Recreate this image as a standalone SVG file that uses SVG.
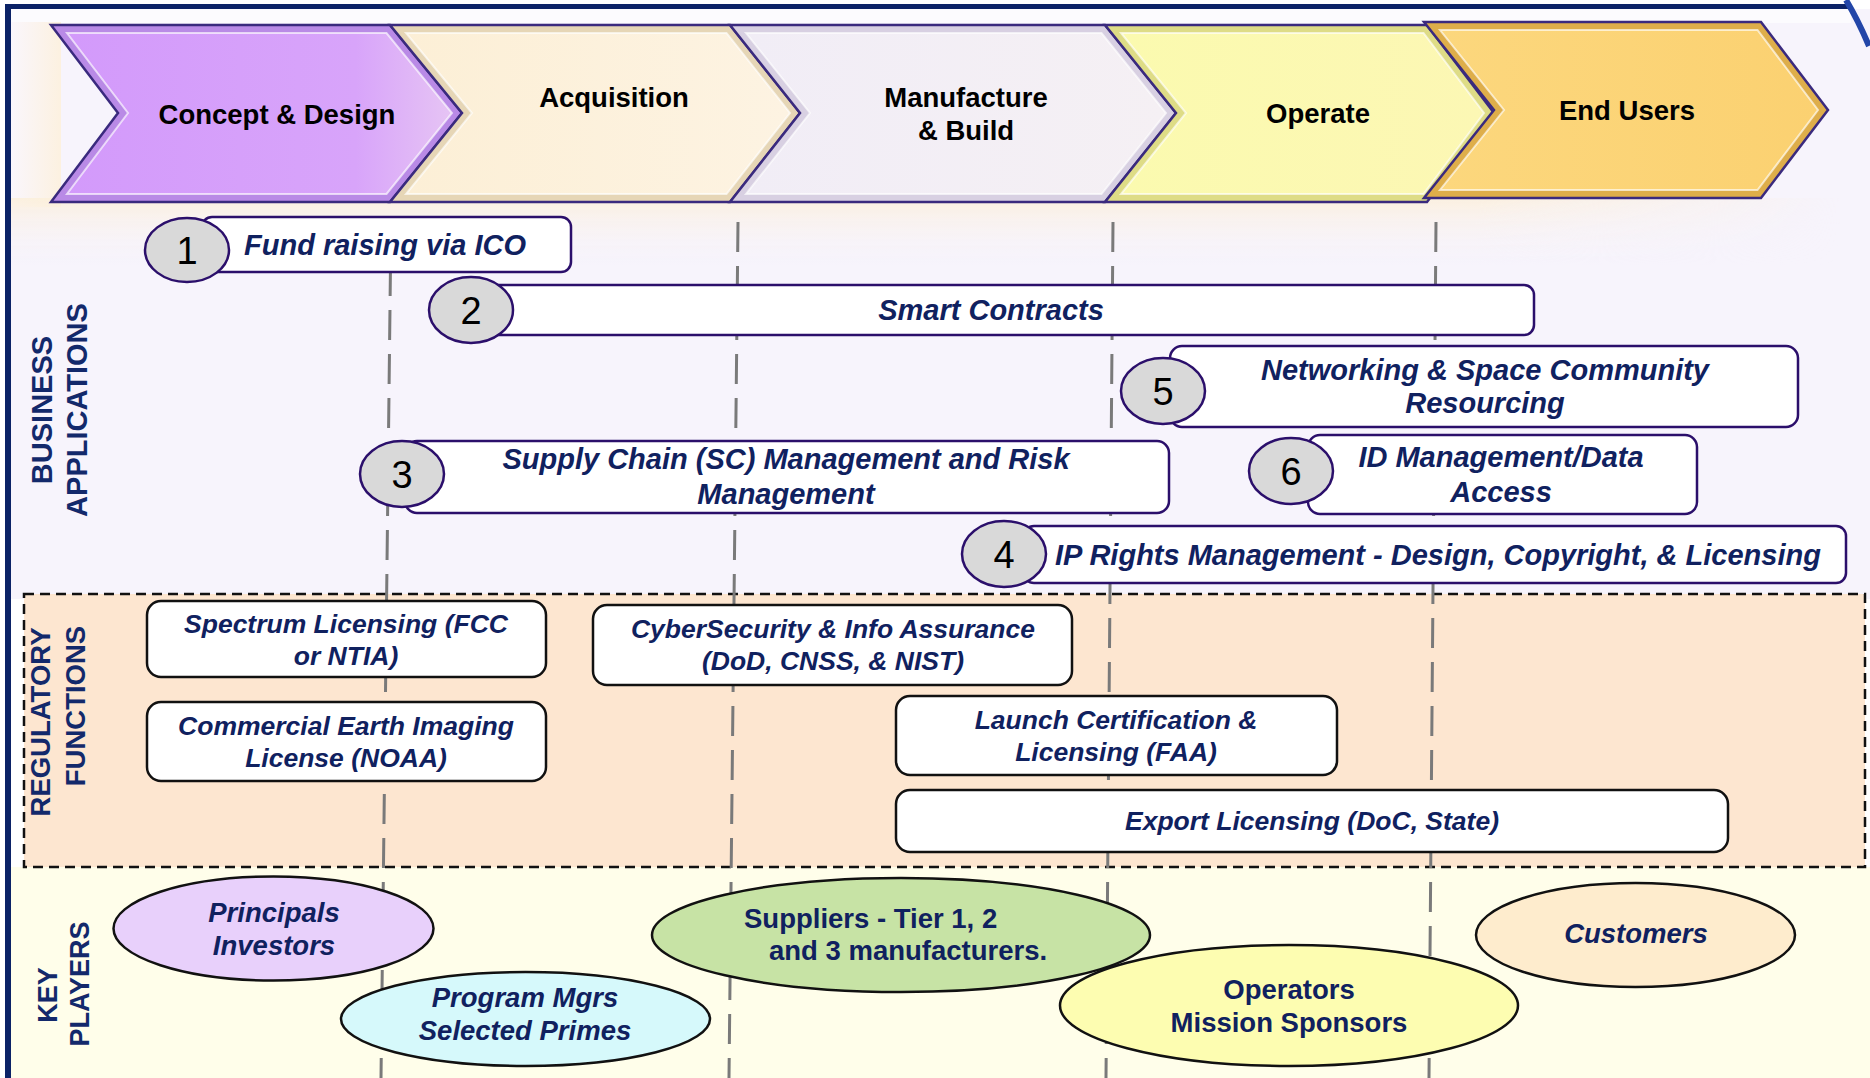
<svg xmlns="http://www.w3.org/2000/svg" width="1870" height="1078" viewBox="0 0 1870 1078">
<style>
.chev-out{stroke:#3a2a7e;stroke-width:2.5;stroke-linejoin:miter}
.chev-in{stroke:#ffffff;stroke-opacity:0.65;stroke-width:2}
.chev-t{font-family:"Liberation Sans",Arial,sans-serif;font-weight:bold;font-size:27.5px;fill:#000;text-anchor:middle}
.side{font-family:"Liberation Sans",Arial,sans-serif;font-weight:bold;fill:#13296b;text-anchor:middle}
.biz-box{fill:#fff;stroke:#2b0f6b;stroke-width:2.5}
.num{fill:#d9d9d9;stroke:#2b0f6b;stroke-width:2.5}
.num-t{font-family:"Liberation Sans",Arial,sans-serif;font-size:38px;fill:#000;text-anchor:middle}
.biz-t{font-family:"Liberation Sans",Arial,sans-serif;font-weight:bold;font-style:italic;font-size:29px;fill:#10215f;text-anchor:middle}
.reg-box{fill:#fff;stroke:#111;stroke-width:2.5}
.reg-t{font-family:"Liberation Sans",Arial,sans-serif;font-weight:bold;font-style:italic;font-size:26.5px;fill:#10215f;text-anchor:middle}
.kp{stroke:#111;stroke-width:2.5}
.kp-t{font-family:"Liberation Sans",Arial,sans-serif;font-weight:bold;font-size:27.5px;fill:#10215f;text-anchor:middle}
.it{font-style:italic}
.vline{stroke:#7a7a7a;stroke-width:3;stroke-dasharray:30 14;fill:none}
</style>
<defs>
<linearGradient id="gConcept" x1="0" y1="0" x2="1" y2="0"><stop offset="0" stop-color="#d39afb"/><stop offset="0.75" stop-color="#d8a4fa"/><stop offset="1" stop-color="#e6c4f4"/></linearGradient>
<linearGradient id="gAcq" x1="0" y1="0" x2="1" y2="0"><stop offset="0" stop-color="#fcefd6"/><stop offset="1" stop-color="#fdf3e2"/></linearGradient>
<linearGradient id="gMan" x1="0" y1="0" x2="1" y2="0"><stop offset="0" stop-color="#f1edf6"/><stop offset="1" stop-color="#f5f0f4"/></linearGradient>
<linearGradient id="gOp" x1="0" y1="0" x2="1" y2="0"><stop offset="0" stop-color="#fbfaaf"/><stop offset="1" stop-color="#fcf7b4"/></linearGradient>
<linearGradient id="gEnd" x1="0" y1="0" x2="1" y2="0"><stop offset="0" stop-color="#fcd77d"/><stop offset="1" stop-color="#fbd171"/></linearGradient>
<linearGradient id="glow" x1="0" y1="0" x2="0" y2="1"><stop offset="0" stop-color="#fcefd9" stop-opacity="0.8"/><stop offset="1" stop-color="#f7f4fc" stop-opacity="0"/></linearGradient>
<linearGradient id="glowH" x1="0" y1="0" x2="1" y2="0"><stop offset="0" stop-color="#fff" stop-opacity="1"/><stop offset="0.8" stop-color="#fff" stop-opacity="1"/><stop offset="1" stop-color="#fff" stop-opacity="0"/></linearGradient>
<mask id="glowMask"><rect x="11" y="198" width="1830" height="70" fill="url(#glowH)"/></mask>
<linearGradient id="glowL" x1="0" y1="0" x2="1" y2="0"><stop offset="0" stop-color="#faf6fc"/><stop offset="1" stop-color="#fcf1e0"/></linearGradient>
</defs>

<!-- backgrounds -->
<rect x="0" y="0" width="1870" height="1078" fill="#ffffff"/>
<rect x="11" y="9" width="1859" height="590" fill="#f7f4fc"/>
<rect x="11" y="9" width="1840" height="14" fill="#fcfbfe"/>
<rect x="11" y="22" width="50" height="185" fill="url(#glowL)"/>
<rect x="11" y="198" width="1830" height="70" fill="url(#glow)" mask="url(#glowMask)"/>
<rect x="11" y="867" width="1859" height="211" fill="#fffeea"/>
<rect x="24" y="594" width="1841" height="273" fill="#fde6d0" stroke="#111" stroke-width="2.5" stroke-dasharray="10 6"/>
<rect x="5" y="4" width="1845" height="5" fill="#0b2266"/>
<rect x="5" y="4" width="6" height="1074" fill="#0b2266"/>
<path d="M1846,0 Q1858,20 1869,46" fill="none" stroke="#2346a8" stroke-width="6"/>

<!-- side labels -->
<text class="side" font-size="29" transform="translate(52,410) rotate(-90)">BUSINESS</text>
<text class="side" font-size="29" transform="translate(87,410) rotate(-90)">APPLICATIONS</text>
<text class="side" font-size="27.5" transform="translate(50,722) rotate(-90)">REGULATORY</text>
<text class="side" font-size="27.5" transform="translate(85,706) rotate(-90)">FUNCTIONS</text>
<text class="side" font-size="27" transform="translate(57,995) rotate(-90)">KEY</text>
<text class="side" font-size="27" transform="translate(89,984) rotate(-90)">PLAYERS</text>

<!-- connectors: vertical phase dividers -->
<g id="connectors">
<line class="vline" x1="391" y1="222" x2="381" y2="1078"/>
<line class="vline" x1="738" y1="222" x2="729" y2="1078"/>
<line class="vline" x1="1113" y1="222" x2="1106" y2="1078"/>
<line class="vline" x1="1436" y1="222" x2="1429" y2="1078"/>
</g>

<!-- phase chevrons -->
<g id="phase-concept">
<polygon class="chev-out" fill="#b98ae6" points="51,25 390,25 462,113 390,202 51,202 118,113"/>
<polygon class="chev-in" fill="url(#gConcept)" points="67,33 386.5,33 452,113 386.5,194 67,194 128,113"/>
<text class="chev-t" x="277" y="124">Concept &amp; Design</text>
</g>
<g id="phase-acquisition">
<polygon class="chev-out" fill="#e6d6b6" points="390,25 730,25 800,113 730,202 390,202 462,113"/>
<polygon class="chev-in" fill="url(#gAcq)" points="406,33 726.5,33 790,113 726.5,194 406,194 472,113"/>
<text class="chev-t" x="614" y="107">Acquisition</text>
</g>
<g id="phase-manufacture">
<polygon class="chev-out" fill="#d8d0e2" points="730,25 1105,25 1176,113 1105,202 730,202 800,113"/>
<polygon class="chev-in" fill="url(#gMan)" points="746,33 1101.5,33 1166,113 1101.5,194 746,194 810,113"/>
<text class="chev-t" x="966" y="107">Manufacture</text>
<text class="chev-t" x="966" y="140">&amp; Build</text>
</g>
<g id="phase-operate">
<polygon class="chev-out" fill="#dedc86" points="1105,25 1427,25 1494,113 1427,202 1105,202 1176,113"/>
<polygon class="chev-in" fill="url(#gOp)" points="1121,33 1423.5,33 1484,113 1423.5,194 1121,194 1186,113"/>
<text class="chev-t" x="1318" y="123">Operate</text>
</g>
<g id="phase-endusers">
<polygon class="chev-out" fill="#deae4a" points="1424,22 1761,22 1828,110 1761,198 1424,198 1494,110"/>
<polygon class="chev-in" fill="url(#gEnd)" points="1440,30 1757.5,30 1818,110 1757.5,190 1440,190 1504,110"/>
<text class="chev-t" x="1627" y="120">End Users</text>
</g>

<!-- business applications -->
<g id="app-1">
<rect class="biz-box" x="202" y="217" width="369" height="55" rx="10"/>
<ellipse class="num" cx="187" cy="250" rx="42" ry="32"/>
<text class="num-t" x="187" y="264">1</text>
<text class="biz-t" x="385" y="255">Fund raising via ICO</text>
</g>
<g id="app-2">
<rect class="biz-box" x="485" y="285" width="1049" height="50" rx="10"/>
<ellipse class="num" cx="471" cy="310" rx="42" ry="33"/>
<text class="num-t" x="471" y="324">2</text>
<text class="biz-t" x="991" y="320">Smart Contracts</text>
</g>
<g id="app-5">
<rect class="biz-box" x="1170" y="346" width="628" height="81" rx="12"/>
<ellipse class="num" cx="1163" cy="391" rx="42" ry="33"/>
<text class="num-t" x="1163" y="405">5</text>
<text class="biz-t" x="1485" y="380">Networking &amp; Space Community</text>
<text class="biz-t" x="1485" y="413">Resourcing</text>
</g>
<g id="app-3">
<rect class="biz-box" x="405" y="441" width="764" height="72" rx="12"/>
<ellipse class="num" cx="402" cy="474" rx="42" ry="33"/>
<text class="num-t" x="402" y="488">3</text>
<text class="biz-t" x="786" y="469">Supply Chain (SC) Management and Risk</text>
<text class="biz-t" x="786" y="504">Management</text>
</g>
<g id="app-6">
<rect class="biz-box" x="1308" y="435" width="389" height="79" rx="12"/>
<ellipse class="num" cx="1291" cy="471" rx="42" ry="33"/>
<text class="num-t" x="1291" y="485">6</text>
<text class="biz-t" x="1501" y="467">ID Management/Data</text>
<text class="biz-t" x="1501" y="502">Access</text>
</g>
<g id="app-4">
<rect class="biz-box" x="1024" y="526" width="822" height="57" rx="10"/>
<ellipse class="num" cx="1004" cy="554" rx="42" ry="33"/>
<text class="num-t" x="1004" y="568">4</text>
<text class="biz-t" x="1438" y="565">IP Rights Management - Design, Copyright, &amp; Licensing</text>
</g>

<!-- regulatory functions -->
<g id="reg-spectrum">
<rect class="reg-box" x="147" y="601" width="399" height="76" rx="14"/>
<text class="reg-t" x="346" y="633">Spectrum Licensing (FCC</text>
<text class="reg-t" x="346" y="665">or NTIA)</text>
</g>
<g id="reg-imaging">
<rect class="reg-box" x="147" y="702" width="399" height="79" rx="14"/>
<text class="reg-t" x="346" y="735">Commercial Earth Imaging</text>
<text class="reg-t" x="346" y="767">License (NOAA)</text>
</g>
<g id="reg-cyber">
<rect class="reg-box" x="593" y="605" width="479" height="80" rx="14"/>
<text class="reg-t" x="833" y="638">CyberSecurity &amp; Info Assurance</text>
<text class="reg-t" x="833" y="670">(DoD, CNSS, &amp; NIST)</text>
</g>
<g id="reg-launch">
<rect class="reg-box" x="896" y="696" width="441" height="79" rx="14"/>
<text class="reg-t" x="1116" y="729">Launch Certification &amp;</text>
<text class="reg-t" x="1116" y="761">Licensing (FAA)</text>
</g>
<g id="reg-export">
<rect class="reg-box" x="896" y="790" width="832" height="62" rx="14"/>
<text class="reg-t" x="1312" y="830">Export Licensing (DoC, State)</text>
</g>

<!-- key players -->
<g id="kp-principals">
<ellipse class="kp" cx="273.5" cy="928.5" rx="160" ry="52" fill="#e8d0fb"/>
<text class="kp-t it" x="274" y="922">Principals</text>
<text class="kp-t it" x="274" y="955">Investors</text>
</g>
<g id="kp-program">
<ellipse class="kp" cx="525.5" cy="1019" rx="184.5" ry="47" fill="#d6f9fb"/>
<text class="kp-t it" x="525" y="1007">Program Mgrs</text>
<text class="kp-t it" x="525" y="1040">Selected Primes</text>
</g>
<g id="kp-suppliers">
<ellipse class="kp" cx="901" cy="935" rx="249" ry="57" fill="#c7e3a5"/>
<text class="kp-t" x="744" y="928" style="text-anchor:start">Suppliers - Tier 1, 2</text>
<text class="kp-t" x="769" y="960" style="text-anchor:start">and 3 manufacturers.</text>
</g>
<g id="kp-operators">
<ellipse class="kp" cx="1289" cy="1005.5" rx="229" ry="60.5" fill="#fdfdb1"/>
<text class="kp-t" x="1289" y="999">Operators</text>
<text class="kp-t" x="1289" y="1032">Mission Sponsors</text>
</g>
<g id="kp-customers">
<ellipse class="kp" cx="1635.5" cy="935" rx="159.5" ry="52" fill="#feeccd"/>
<text class="kp-t it" x="1636" y="943">Customers</text>
</g>
</svg>
